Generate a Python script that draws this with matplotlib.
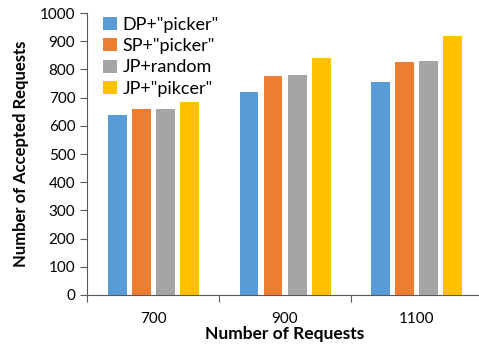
import matplotlib
matplotlib.use("Agg")
import matplotlib.pyplot as plt
import numpy as np

plt.rcParams['font.family'] = ['Lato', 'DejaVu Sans']

# data
categories = ["700", "900", "1100"]
series = ['DP+"picker"', 'SP+"picker"', 'JP+random', 'JP+"pikcer"']
dp_picker = [640, 720, 755]
sp_picker = [660, 775, 828]
jp_random = [660, 780, 830]
jp_pikcer = [685, 840, 920]
colors = ["#5B9BD5", "#ED7D31", "#A5A5A5", "#FFC000"]

fig = plt.figure(figsize=(4.79, 3.52), dpi=100)
ax = fig.add_axes([0.182, 0.162, 0.826, 0.801])

x = np.arange(len(categories))
width = 0.144
pitch = 0.182
for i, (vals, lab) in enumerate(zip([dp_picker, sp_picker, jp_random, jp_pikcer], series)):
    ax.bar(x + (i - 1.5) * pitch, vals, width, color=colors[i], label=lab)

ax.set_xlim(-0.5, len(categories) - 0.5)
ax.set_ylim(0, 1000)
ax.set_yticks(np.arange(0, 1001, 100))
ax.tick_params(axis='y', labelsize=11, length=5, direction='out', color='#595959')
ax.set_xticks(np.arange(-0.5, len(categories), 1.0))
ax.set_xticklabels([])
ax.set_xticks(x, minor=True)
ax.set_xticklabels(categories, minor=True, fontsize=11)
ax.tick_params(axis='x', which='major', length=5, color='#595959')
ax.tick_params(axis='x', which='minor', length=0, pad=12)

for s in ['top', 'right']:
    ax.spines[s].set_visible(False)
for s in ['left', 'bottom']:
    ax.spines[s].set_color('#595959')

ax.set_xlabel("Number of Requests", fontsize=12.5, fontweight='bold', labelpad=0)
ax.set_ylabel("Number of Accepted Requests", fontsize=12, fontweight='bold', labelpad=8)

ax.legend(loc='upper left', bbox_to_anchor=(0.0, 1.045), frameon=False, fontsize=13,
          handlelength=0.75, handleheight=0.75, handletextpad=0.3, labelspacing=0.3)

fig.savefig("out.png", dpi=100)
